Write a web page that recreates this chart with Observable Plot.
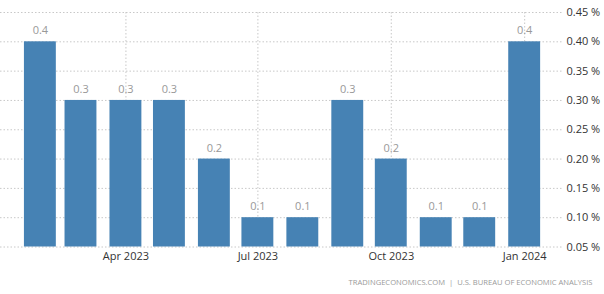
<!DOCTYPE html>
<html>
<head>
<meta charset="utf-8">
<script src="https://cdn.jsdelivr.net/npm/d3@7"></script>
<script src="https://cdn.jsdelivr.net/npm/@observablehq/plot@0.6"></script>
<style>
  html, body { margin: 0; padding: 0; background: #fff; }
  #chart { position: relative; width: 604px; height: 294px; }
</style>
</head>
<body>
<div id="chart"></div>
<script>
const months = ["2023-02-01","2023-03-01","2023-04-01","2023-05-01","2023-06-01","2023-07-01","2023-08-01","2023-09-01","2023-10-01","2023-11-01","2023-12-01","2024-01-01"];
const values = [0.4, 0.3, 0.3, 0.3, 0.2, 0.1, 0.1, 0.3, 0.2, 0.1, 0.1, 0.4];
const yTicks = [0.05, 0.10, 0.15, 0.20, 0.25, 0.30, 0.35, 0.40, 0.45];
const xTicks = ["2023-04-01","2023-07-01","2023-10-01","2024-01-01"];
const baseline = 0.05;
const caption = "TRADINGECONOMICS.COM  |  U.S. BUREAU OF ECONOMIC ANALYSIS";

const data = months.map((m, i) => ({date: new Date(m + "T00:00:00Z"), value: values[i]}));
const xTickDates = xTicks.map(m => new Date(m + "T00:00:00Z"));
const halfBar = 11; // days

const font = "'Open Sans', 'Noto Sans', sans-serif";

const chart = Plot.plot({
  width: 604,
  height: 294,
  marginLeft: 0,
  marginRight: 42,
  marginTop: 12,
  marginBottom: 47.5,
  style: {fontFamily: font, fontSize: "11px", color: "#333", background: "#fff"},
  x: {
    type: "utc",
    domain: [new Date("2023-01-04T12:00:00Z"), new Date("2024-01-27T02:00:00Z")],
    axis: null
  },
  y: {domain: [0.05, 0.45], axis: null},
  marks: [
    Plot.ruleY(yTicks, {stroke: "#c8c8c8", strokeDasharray: "1.5,2", strokeWidth: 1}),
    Plot.ruleX(xTickDates, {stroke: "#c8c8c8", strokeDasharray: "1.5,2", strokeWidth: 1}),
    Plot.rectY(data, {
      x1: d => d3.utcDay.offset(d.date, -halfBar),
      x2: d => d3.utcDay.offset(d.date, halfBar),
      y1: baseline,
      y2: "value",
      fill: "#4682b4"
    }),
    Plot.text(data, {
      x: "date", y: "value", text: d => d.value.toFixed(1),
      dy: -11, fill: "#999", fontSize: 11
    }),
    Plot.axisX(xTickDates, {
      tickSize: 0, tickPadding: 5, tickFormat: d3.utcFormat("%b %Y"),
      fill: "#333", fontSize: 11, ticks: xTickDates, label: null
    }),
    Plot.axisY(yTicks, {
      anchor: "right", tickSize: 0, tickPadding: 4, ticks: yTicks, label: null,
      tickFormat: d => d.toFixed(2) + " %", fill: "#333", fontSize: 11, textAnchor: "start"
    }),
    Plot.text([caption], {
      frameAnchor: "bottom-right", dx: 30, dy: 38, textAnchor: "end",
      fill: "#9a9a9a", fontSize: 7.6, style: "letter-spacing:0.35px"
    })
  ]
});
document.getElementById("chart").appendChild(chart);
</script>
</body>
</html>
